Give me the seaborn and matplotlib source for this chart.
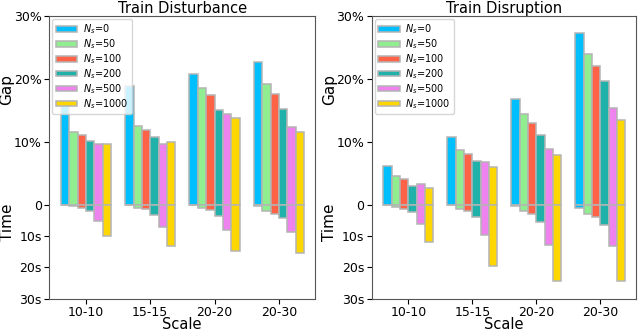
import pandas as pd
import seaborn as sns
import matplotlib.pyplot as plt

# categories
scales = ['10-10', '15-15', '20-20', '20-30']
ns_labels = ['$N_s$=0', '$N_s$=50', '$N_s$=100', '$N_s$=200', '$N_s$=500', '$N_s$=1000']
colors = ['#00BFFF', '#90EE90', '#FF6347', '#20B2AA', '#EE82EE', '#FFD700']

# gap (%) per Ns, one value per scale
dist_gap = [[16.4, 18.8, 20.8, 22.6],
             [11.5, 12.5, 18.5, 19.2],
             [11.0, 11.8, 17.5, 17.6],
             [10.1, 10.8, 15.0, 15.2],
             [9.7, 9.7, 14.4, 12.3],
             [9.7, 10.0, 13.7, 11.6]]
# time (s) per Ns
dist_time = [[0.2, 0.2, 0.3, 0.6],
              [0.6, 1.0, 1.2, 2.2],
              [1.2, 1.4, 1.7, 3.0],
              [2.2, 3.2, 3.7, 4.3],
              [5.2, 7.0, 8.0, 8.6],
              [10.0, 13.3, 14.8, 15.5]]

disr_gap = [[6.2, 10.8, 16.8, 27.3],
             [4.5, 8.6, 14.4, 23.9],
             [4.1, 8.0, 13.0, 22.1],
             [3.0, 7.0, 11.0, 19.7],
             [3.3, 6.7, 8.9, 15.4],
             [2.7, 6.0, 7.9, 13.4]]
disr_time = [[0.1, 0.2, 0.4, 1.0],
              [0.8, 1.4, 2.1, 2.9],
              [1.3, 2.1, 3.1, 3.9],
              [2.5, 4.1, 5.7, 6.6],
              [6.2, 9.8, 13.0, 13.2],
              [11.9, 19.5, 24.3, 24.3]]

titles = ['Train Disturbance', 'Train Disruption']


def make_df(gap, time):
    rows = []
    for j, ns in enumerate(ns_labels):
        for i, sc in enumerate(scales):
            # time is drawn downward, 10s takes half the height of 10%
            rows.append({'Scale': sc, 'Ns': ns, 'gap': gap[j][i], 'time': -0.5 * time[j][i]})
    return pd.DataFrame(rows)


fig = plt.figure(figsize=(6.4, 3.32), dpi=100)
ax1 = fig.add_axes([0.077, 0.1, 0.415, 0.852])
ax2 = fig.add_axes([0.581, 0.1, 0.413, 0.852])

for ax, gap, time, title, gx in [(ax1, dist_gap, dist_time, titles[0], 0.011),
                                 (ax2, disr_gap, disr_time, titles[1], 0.515)]:
    df = make_df(gap, time)
    sns.barplot(data=df, x='Scale', y='gap', hue='Ns', hue_order=ns_labels, palette=colors,
                saturation=1, errorbar=None, edgecolor='#b4b4b4', linewidth=1.1, width=0.78, ax=ax)
    sns.barplot(data=df, x='Scale', y='time', hue='Ns', hue_order=ns_labels, palette=colors,
                saturation=1, errorbar=None, edgecolor='#b4b4b4', linewidth=1.1, width=0.78, ax=ax,
                legend=False)
    ax.set_ylim(-15, 30)
    ax.set_xlim(-0.57, 3.56)
    ax.set_yticks([-15, -10, -5, 0, 10, 20, 30])
    ax.set_yticklabels(['30s', '20s', '10s', '0', '10%', '20%', '30%'], fontsize=9)
    ax.tick_params(axis='x', labelsize=9, pad=1.5)
    ax.tick_params(axis='y', pad=2)
    ax.set_ylabel('')
    ax.set_xlabel('Scale', fontsize=10.5, labelpad=-1.5)
    ax.set_title(title, fontsize=10.5, pad=2)
    ax.legend(loc='upper left', fontsize=7, handlelength=2.2, handleheight=0.5,
              labelspacing=0.12, handletextpad=0.6, borderaxespad=0.3, borderpad=0.35)
    for sp in ax.spines.values():
        sp.set_color('#555555')
    fig.text(gx, 0.73, 'Gap', rotation=90, fontsize=11, ha='center', va='center')
    fig.text(gx, 0.33, 'Time', rotation=90, fontsize=11, ha='center', va='center')

plt.savefig('out.png', dpi=100)
